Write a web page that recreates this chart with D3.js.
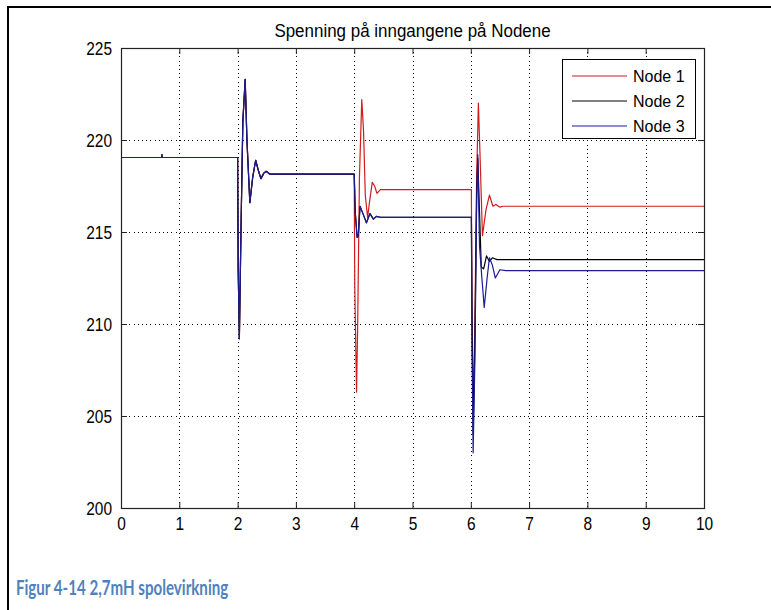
<!DOCTYPE html>
<html>
<head>
<meta charset="utf-8">
<script src="https://cdn.jsdelivr.net/npm/d3@7"></script>
<style>
  html, body { margin: 0; padding: 0; background: #fff; }
  svg { display: block; }
  .sans { font-family: "Liberation Sans", Arial, sans-serif; fill: #000; }
</style>
</head>
<body>
<script>
// Time axis (s) and voltage axis ticks
const xTicks = [0, 1, 2, 3, 4, 5, 6, 7, 8, 9, 10];
const yTicks = [200, 205, 210, 215, 220, 225];

const titleText = "Spenning på inngangene på Nodene";
const captionText = "Figur 4-14 2,7mH spolevirkning";
const seriesNames = ["Node 1", "Node 2", "Node 3"];
const seriesColors = ["#d01c1c", "#000000", "#1c1c90"];

// Shared start: all nodes equal until the first switching event at t = 2
const commonStart = [
  [0, 219.05], [0.70, 219.05], [0.703, 219.2], [0.707, 219.05],
  [2.0, 219.05], [2.01, 213.0], [2.03, 209.2], [2.06, 215.5], [2.09, 221.0],
  [2.13, 223.3], [2.16, 220.0], [2.21, 216.6], [2.26, 218.0], [2.31, 218.9],
  [2.36, 218.3], [2.40, 217.9], [2.45, 218.2], [2.49, 218.3], [2.55, 218.15],
  [4.0, 218.15]
];

// Node 1 after t = 4
const node1Tail = [
  [4.01, 212.0], [4.04, 206.3], [4.06, 210.0], [4.09, 218.0], [4.13, 222.2],
  [4.16, 220.5], [4.19, 217.0], [4.23, 215.8], [4.27, 216.8], [4.31, 217.7],
  [4.35, 217.5], [4.39, 217.1], [4.45, 217.3], [4.5, 217.3],
  [6.01, 217.3], [6.02, 211.0], [6.04, 205.3], [6.07, 210.0], [6.10, 218.0],
  [6.13, 222.0], [6.16, 219.0], [6.20, 214.8], [6.26, 216.2], [6.32, 217.0],
  [6.38, 216.4], [6.43, 216.5], [6.50, 216.35], [6.55, 216.4], [10, 216.4]
];

// Node 3 between t = 4 and t = 6 (Node 2 follows it there)
const node3Mid = [
  [4.02, 216.0], [4.05, 214.7], [4.07, 214.8], [4.10, 216.4], [4.15, 216.0],
  [4.21, 215.5], [4.27, 216.0], [4.33, 215.7], [4.38, 215.85], [4.45, 215.8],
  [6.01, 215.8]
];

// Node 2 after t = 6
const node2Tail = [
  [6.02, 211.0], [6.04, 204.0], [6.07, 209.0], [6.10, 217.0], [6.12, 219.0],
  [6.15, 216.0], [6.18, 213.1], [6.22, 213.0], [6.27, 213.7], [6.32, 213.4],
  [6.37, 213.6], [6.45, 213.5], [10, 213.5]
];

// Node 3 after t = 6
const node3Tail = [
  [6.02, 209.0], [6.04, 203.0], [6.07, 208.0], [6.10, 216.5], [6.12, 219.2],
  [6.15, 214.2], [6.19, 212.5], [6.23, 210.9], [6.28, 212.5], [6.32, 213.6],
  [6.37, 213.2], [6.42, 212.5], [6.50, 212.95], [6.6, 212.9], [10, 212.9]
];

const node1 = commonStart.concat(node1Tail);
const node2 = commonStart.concat(node3Mid, node2Tail);
const node3 = commonStart.concat(node3Mid, node3Tail);
const seriesData = [node1, node2, node3];

const W = 771, H = 610;
const plot = { left: 121, right: 704, top: 48, bottom: 508 };

const svg = d3.select("body").append("svg")
  .attr("width", W).attr("height", H);

// page frame lines
svg.append("line").attr("x1", 7).attr("x2", W).attr("y1", 7).attr("y2", 7)
  .attr("stroke", "#000").attr("stroke-width", 2);
svg.append("line").attr("x1", 8).attr("x2", 8).attr("y1", 6).attr("y2", H)
  .attr("stroke", "#000").attr("stroke-width", 2);

const x = d3.scaleLinear().domain([0, 10]).range([plot.left, plot.right]);
const y = d3.scaleLinear().domain([200, 225]).range([plot.bottom, plot.top]);

// grid
const grid = svg.append("g").attr("stroke", "#000").attr("stroke-width", 1)
  .attr("stroke-dasharray", "1,3.2").attr("shape-rendering", "crispEdges");
grid.selectAll(".gx").data(xTicks.slice(1, -1)).join("line")
  .attr("x1", d => Math.round(x(d)) + 0.5).attr("x2", d => Math.round(x(d)) + 0.5)
  .attr("y1", plot.top).attr("y2", plot.bottom);
grid.selectAll(".gy").data(yTicks.slice(1, -1)).join("line")
  .attr("x1", plot.left).attr("x2", plot.right)
  .attr("y1", d => Math.round(y(d)) + 0.5).attr("y2", d => Math.round(y(d)) + 0.5);

// series
const line = d3.line().x(d => x(d[0])).y(d => y(d[1]));
svg.append("g").selectAll("path").data(seriesData).join("path")
  .attr("d", line)
  .attr("fill", "none")
  .attr("stroke", (d, i) => seriesColors[i])
  .attr("stroke-width", 1.2)
  .attr("stroke-linejoin", "round");

// axes (box with inward ticks on all sides)
const tickLen = 6;
const tickFont = 18, tickSqueeze = 0.86;
const axBottom = d3.axisBottom(x).tickValues(xTicks).tickSize(-tickLen).tickFormat(d3.format("d"));
const axLeft = d3.axisLeft(y).tickValues(yTicks).tickSize(-tickLen).tickFormat(d3.format("d"));
const axTop = d3.axisTop(x).tickValues(xTicks).tickSize(-tickLen).tickFormat("");
const axRight = d3.axisRight(y).tickValues(yTicks).tickSize(-tickLen).tickFormat("");

function styleAxis(g) {
  g.select(".domain").attr("stroke", "none");
  g.selectAll(".tick line").attr("stroke", "#222");
}
svg.append("g").attr("transform", `translate(0,${plot.bottom})`).call(axBottom).call(styleAxis)
  .selectAll(".tick text")
  .attr("class", "sans").attr("font-size", tickFont)
  .attr("y", 0).attr("dy", "0")
  .attr("transform", `translate(0,22) scale(${tickSqueeze},1)`);
svg.append("g").attr("transform", `translate(${plot.left},0)`).call(axLeft).call(styleAxis)
  .selectAll(".tick text")
  .attr("class", "sans").attr("font-size", tickFont)
  .attr("x", 0).attr("dy", "0.36em")
  .attr("transform", `translate(-9,0) scale(${tickSqueeze},1)`);
svg.append("g").attr("transform", `translate(0,${plot.top})`).call(axTop).call(styleAxis);
svg.append("g").attr("transform", `translate(${plot.right},0)`).call(axRight).call(styleAxis);

svg.append("rect")
  .attr("x", plot.left + 0.5).attr("y", plot.top + 0.5)
  .attr("width", plot.right - plot.left).attr("height", plot.bottom - plot.top)
  .attr("fill", "none").attr("stroke", "#222").attr("stroke-width", 1.2);

// title
svg.append("text")
  .attr("class", "sans")
  .attr("transform", `translate(${(plot.left + plot.right) / 2},37) scale(0.97,1)`)
  .attr("text-anchor", "middle")
  .attr("font-size", 17.5)
  .text(titleText);

// legend
const leg = { x: 562, y: 59, w: 133, h: 79 };
const lg = svg.append("g");
lg.append("rect")
  .attr("x", leg.x + 0.5).attr("y", leg.y + 0.5).attr("width", leg.w).attr("height", leg.h)
  .attr("fill", "#fff").attr("stroke", "#000").attr("stroke-width", 1);
seriesNames.forEach((name, i) => {
  const ly = 76 + i * 25;
  lg.append("line").attr("x1", 572).attr("x2", 627).attr("y1", ly).attr("y2", ly)
    .attr("stroke", seriesColors[i]).attr("stroke-width", 1.2);
  lg.append("text").attr("x", 633).attr("y", ly + 6)
    .attr("class", "sans").attr("font-size", 16).text(name);
});

// caption
svg.append("text")
  .attr("transform", "translate(16,595) scale(0.72,1)")
  .attr("font-family", "Lato, 'Open Sans', sans-serif")
  .attr("font-weight", "bold")
  .attr("font-size", 21)
  .attr("fill", "#4F81BD")
  .text(captionText);
</script>
</body>
</html>
